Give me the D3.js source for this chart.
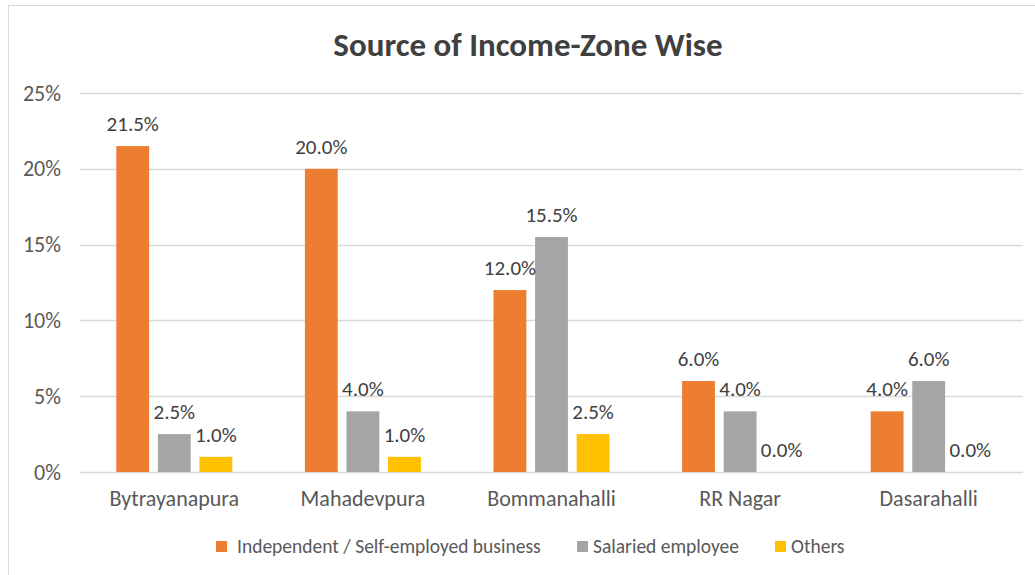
<!DOCTYPE html>
<html>
<head>
<meta charset="utf-8">
<script src="https://cdn.jsdelivr.net/npm/d3@7"></script>
<style>
  body { margin: 0; background: #fff; }
  svg { display: block; font-family: Carlito, "Open Sans", "Liberation Sans", sans-serif; }
</style>
</head>
<body>
<div id="chart"></div>
<script>
// data
const zones = ['Bytrayanapura', 'Mahadevpura', 'Bommanahalli', 'RR Nagar', 'Dasarahalli'];
const seriesNames = ['Independent / Self-employed business', 'Salaried employee', 'Others'];
const independent = [21.5, 20.0, 12.0, 6.0, 4.0];
const salaried = [2.5, 4.0, 15.5, 4.0, 6.0];
const others = [1.0, 1.0, 2.5, 0.0, 0.0];
const yTicks = [0, 5, 10, 15, 20, 25];

const colors = ['#ed7d31', '#a5a5a5', '#ffc000'];
const seriesValues = [independent, salaried, others];

const width = 1035, height = 575;
const margin = { top: 93, right: 12, bottom: 103, left: 80 };

const svg = d3.select('#chart').append('svg')
    .attr('width', width)
    .attr('height', height);

// chart border
svg.append('rect')
    .attr('x', 8.5).attr('y', 5.5)
    .attr('width', width - 8).attr('height', height - 5)
    .attr('fill', 'none')
    .attr('stroke', '#d9d9d9');

const x = d3.scaleBand()
    .domain(zones)
    .range([margin.left, width - margin.right])
    .paddingInner(0.385)
    .paddingOuter(0.1925);

const xInner = d3.scaleBand()
    .domain(d3.range(3))
    .range([0, x.bandwidth()])
    .paddingInner(0.21);

const y = d3.scaleLinear()
    .domain([0, 25])
    .range([height - margin.bottom, margin.top]);

// gridlines
svg.append('g')
    .selectAll('line')
    .data(yTicks)
    .join('line')
    .attr('x1', margin.left)
    .attr('x2', width - margin.right)
    .attr('y1', d => Math.round(y(d)) + 0.5)
    .attr('y2', d => Math.round(y(d)) + 0.5)
    .attr('stroke', '#d9d9d9')
    .attr('stroke-width', 1.3);

// y axis labels
svg.append('g')
    .selectAll('text')
    .data(yTicks)
    .join('text')
    .attr('x', 61)
    .attr('y', d => y(d) + 7.5)
    .attr('text-anchor', 'end')
    .attr('fill', '#595959')
    .attr('font-size', '22px')
    .text(d => d + '%');

// x axis labels
svg.append('g')
    .selectAll('text')
    .data(zones)
    .join('text')
    .attr('x', d => x(d) + x.bandwidth() / 2)
    .attr('y', 506)
    .attr('text-anchor', 'middle')
    .attr('fill', '#595959')
    .attr('font-size', '22px')
    .text(d => d);

// bars
const rows = [];
zones.forEach((z, i) => {
    seriesValues.forEach((vals, s) => rows.push({ zone: z, s: s, value: vals[i] }));
});

const groups = svg.append('g');
groups.selectAll('rect')
    .data(rows)
    .join('rect')
    .attr('x', d => x(d.zone) + xInner(d.s))
    .attr('y', d => y(d.value))
    .attr('width', xInner.bandwidth())
    .attr('height', d => y(0) - y(d.value))
    .attr('fill', d => colors[d.s]);

// data labels
groups.selectAll('text')
    .data(rows)
    .join('text')
    .attr('x', d => x(d.zone) + xInner(d.s) + xInner.bandwidth() / 2)
    .attr('y', d => y(d.value) - 15)
    .attr('text-anchor', 'middle')
    .attr('fill', '#404040')
    .attr('font-size', '21px')
    .text(d => d.value.toFixed(1) + '%');

// title
svg.append('text')
    .attr('x', 528)
    .attr('y', 56)
    .attr('text-anchor', 'middle')
    .attr('fill', '#404040')
    .attr('font-size', '33px')
    .attr('font-weight', 'bold')
    .text('Source of Income-Zone Wise');

// legend
const legendX = [216, 577, 775];
const legend = svg.append('g')
    .selectAll('g')
    .data(seriesNames)
    .join('g')
    .attr('transform', (d, i) => `translate(${legendX[i]}, 546)`);

legend.append('rect')
    .attr('x', 0).attr('y', -5)
    .attr('width', 11).attr('height', 11)
    .attr('fill', (d, i) => colors[i]);

legend.append('text')
    .attr('x', (d, i) => i === 0 ? 21 : 16)
    .attr('y', 7)
    .attr('fill', '#595959')
    .attr('font-size', '19.5px')
    .text(d => d);
</script>
</body>
</html>
